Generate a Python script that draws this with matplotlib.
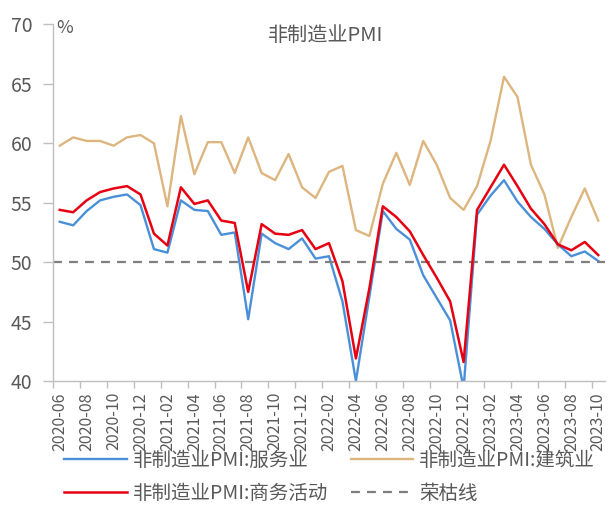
import matplotlib
matplotlib.use("Agg")
import matplotlib.pyplot as plt
import numpy as np

plt.rcParams['font.family'] = ['Noto Sans CJK SC', 'DejaVu Sans']

months = ["2020-06", "2020-07", "2020-08", "2020-09", "2020-10", "2020-11", "2020-12",
          "2021-01", "2021-02", "2021-03", "2021-04", "2021-05", "2021-06", "2021-07",
          "2021-08", "2021-09", "2021-10", "2021-11", "2021-12",
          "2022-01", "2022-02", "2022-03", "2022-04", "2022-05", "2022-06", "2022-07",
          "2022-08", "2022-09", "2022-10", "2022-11", "2022-12",
          "2023-01", "2023-02", "2023-03", "2023-04", "2023-05", "2023-06", "2023-07",
          "2023-08", "2023-09", "2023-10"]

services = [53.4, 53.1, 54.3, 55.2, 55.5, 55.7, 54.8,
            51.1, 50.8, 55.2, 54.4, 54.3, 52.3, 52.5,
            45.2, 52.4, 51.6, 51.1, 52.0,
            50.3, 50.5, 46.7, 40.0, 47.1, 54.3, 52.8,
            51.9, 48.9, 47.0, 45.1, 39.4,
            54.0, 55.6, 56.9, 55.1, 53.8, 52.8, 51.5,
            50.5, 50.9, 50.1]

construction = [59.8, 60.5, 60.2, 60.2, 59.8, 60.5, 60.7,
                60.0, 54.7, 62.3, 57.4, 60.1, 60.1, 57.5,
                60.5, 57.5, 56.9, 59.1, 56.3,
                55.4, 57.6, 58.1, 52.7, 52.2, 56.6, 59.2,
                56.5, 60.2, 58.2, 55.4, 54.4,
                56.4, 60.2, 65.6, 63.9, 58.2, 55.7, 51.2,
                53.8, 56.2, 53.5]

business = [54.4, 54.2, 55.2, 55.9, 56.2, 56.4, 55.7,
            52.4, 51.4, 56.3, 54.9, 55.2, 53.5, 53.3,
            47.5, 53.2, 52.4, 52.3, 52.7,
            51.1, 51.6, 48.4, 41.9, 47.8, 54.7, 53.8,
            52.6, 50.6, 48.7, 46.7, 41.6,
            54.4, 56.3, 58.2, 56.4, 54.5, 53.2, 51.5,
            51.0, 51.7, 50.6]

threshold = 50

label_services = "非制造业PMI:服务业"
label_construction = "非制造业PMI:建筑业"
label_business = "非制造业PMI:商务活动"
label_threshold = "荣枯线"

text_color = "#595959"
axis_color = "#BFBFBF"

fig = plt.figure(figsize=(6.09, 5.07), dpi=100)
ax = fig.add_axes([0.087, 0.2485, 0.9064, 0.7032])

x = np.arange(len(months))
l_con, = ax.plot(x, construction, color="#DDB57F", lw=1.7, label=label_construction)
l_srv, = ax.plot(x, services, color="#4A90D9", lw=1.7, label=label_services)
l_thr = ax.axhline(threshold, color="#7F7F7F", lw=1.6, ls=(0, (4, 3.2)), label=label_threshold)
l_bus, = ax.plot(x, business, color="#E60012", lw=1.8, label=label_business)

ax.set_xlim(-0.5, len(months) - 0.5)
ax.set_ylim(40, 70)
ax.set_yticks(np.arange(40, 71, 5))

ax.set_xticks(x[::2])
ax.set_xticklabels(months[::2], rotation=90)
ax.set_xticks(np.arange(-0.5, len(months), 2), minor=True)
ax.tick_params(axis='x', which='major', length=0, pad=8, labelsize=11.5, colors=text_color)
ax.tick_params(axis='x', which='minor', length=5, color=axis_color, width=1)
ax.tick_params(axis='y', which='major', length=7, color=axis_color, width=1,
               labelsize=14, colors=text_color, pad=8)

for side in ("top", "right"):
    ax.spines[side].set_visible(False)
for side in ("left", "bottom"):
    ax.spines[side].set_color(axis_color)
    ax.spines[side].set_linewidth(1)

fig.text(0.093, 0.945, "%", fontsize=13, color=text_color, va="center", ha="left")
fig.text(0.535, 0.93, "非制造业PMI", fontsize=14.5, color=text_color, va="center", ha="center")

fig.legend(handles=[l_srv, l_bus, l_con, l_thr],
           labels=[label_services, label_business, label_construction, label_threshold],
           ncol=2, loc="lower left", bbox_to_anchor=(0.077, -0.028),
           frameon=False, fontsize=14, handlelength=3.2, handletextpad=0.3,
           columnspacing=1.2, labelspacing=0.6, labelcolor=text_color)

fig.savefig("out.png", dpi=100)
